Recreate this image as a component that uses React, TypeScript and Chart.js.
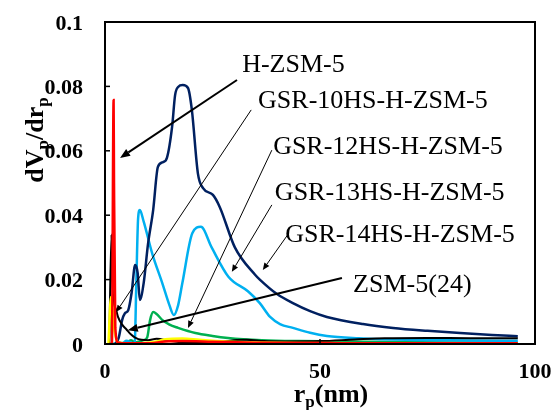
import { useEffect, useRef } from "react";
import { Chart, registerables } from "chart.js";

Chart.register(...registerables);

// ---------- data ----------
const hzsm5X = [1.0, 1.6, 2.0, 2.1, 2.4, 3.0, 5, 10, 14, 18, 25, 35, 50, 70, 96];
const hzsm5Y = [0, 0, 0.0758, 0.05, 0.005, 0.0005, 0.0002, 0.0002, 0.0008, 0.0009, 0.0007, 0.0004, 0.0003, 0.0002, 0.0002];

const gsr10X = [0.8, 1.4, 1.7, 2.0, 2.5, 3.0, 4, 6, 9, 12, 14, 18, 22, 28, 35, 45, 60, 80, 96];
const gsr10Y = [0, 0.0146, 0.012, 0.006, 0.002, 0.0005, 0.0003, 0.0002, 0.0003, 0.0008, 0.0015, 0.0017, 0.0013, 0.0008, 0.0005, 0.0003, 0.0002, 0.0002, 0.0002];

const zsm24X = [1.0, 1.5, 1.7, 2.0, 2.5, 3.0, 4.0, 5.0, 6.0, 7.0, 8.5, 10, 12, 15, 18, 22, 26, 30, 33, 37, 42, 50, 58, 65, 75, 85, 96];
const zsm24Y = [0, 0.034, 0.02, 0.013, 0.011, 0.0085, 0.006, 0.0045, 0.003, 0.002, 0.0013, 0.0012, 0.0016, 0.001, 0.0005, 0.0004, 0.0005, 0.0012, 0.0013, 0.0009, 0.0008, 0.0009, 0.0014, 0.0018, 0.0019, 0.0018, 0.0018];

const gsr12X = [1, 2, 3, 5, 6, 7, 8, 9, 9.8, 10.5, 11.2, 12, 13.3, 15, 17, 21, 25, 28.6, 36.5, 45, 60, 80, 96];
const gsr12Y = [0, 0, 0, 0.0003, 0.0012, 0.0005, 0.0008, 0.0012, 0.002, 0.0075, 0.0099, 0.0093, 0.0075, 0.006, 0.005, 0.0034, 0.0025, 0.0019, 0.0012, 0.0009, 0.0007, 0.0005, 0.0004];

const gsr13X = [2, 3, 4, 5, 6, 6.9, 7.3, 7.7, 8.1, 9, 11, 13.3, 15, 16, 17, 18, 20.3, 22.3, 24.8, 28.7, 33.3, 36, 38.4, 40.7, 43.7, 47.7, 51.6, 59, 70, 85, 96];
const gsr13Y = [0, 0.0005, 0.0003, 0.001, 0.0005, 0, 0.02, 0.039, 0.0416, 0.038, 0.028, 0.019, 0.012, 0.009, 0.012, 0.019, 0.0344, 0.0364, 0.030, 0.0209, 0.0163, 0.0127, 0.0084, 0.0062, 0.005, 0.0035, 0.0025, 0.0018, 0.0013, 0.0011, 0.001];

const gsr14X = [2.4, 3.2, 4.0, 4.6, 5.4, 6.2, 7.0, 7.6, 8.1, 9.0, 10.0, 11.2, 12.3, 13.5, 14.4, 15.6, 16.3, 17.0, 18.1, 19.3, 20.2, 21.6, 22.8, 25.1, 26.7, 30.2, 34.9, 36, 40, 43.7, 47.7, 51.6, 60, 67, 75, 82.6, 90, 96];
const gsr14Y = [0, 0.002, 0.0075, 0.0095, 0.0105, 0.016, 0.0245, 0.022, 0.0137, 0.019, 0.031, 0.0416, 0.055, 0.0565, 0.0578, 0.0674, 0.0773, 0.0798, 0.0804, 0.0795, 0.0727, 0.053, 0.0484, 0.0463, 0.0425, 0.030, 0.0215, 0.02, 0.0155, 0.0127, 0.0102, 0.0084, 0.0062, 0.005, 0.0041, 0.0034, 0.0028, 0.0024];

const extraX = [1, 5, 10, 20, 40, 60, 80, 96];
const extraY = [0, 0.0001, 0.0001, 0.0001, 0.0001, 0.0001, 0.0001, 0.0001];

const xTickValues = [0, 50, 100];
const yTickValues = [0, 0.02, 0.04, 0.06, 0.08, 0.1];

// ---------- annotations (data coordinates) ----------
const labelNames = ["H-ZSM-5", "GSR-10HS-H-ZSM-5", "GSR-12HS-H-ZSM-5", "GSR-13HS-H-ZSM-5", "GSR-14HS-H-ZSM-5", "ZSM-5(24)"];
const labelX = [31.9, 35.6, 39.1, 39.5, 41.9, 57.7];
const labelY = [0.0845, 0.0733, 0.059, 0.0447, 0.0317, 0.0161];
const arrowFromX = [30.7, 34.0, 38.8, 38.8, 42.8, 55.1];
const arrowFromY = [0.082, 0.0727, 0.0602, 0.0432, 0.0345, 0.0205];
const arrowToX = [3.5, 2.6, 19.3, 29.5, 36.7, 5.3];
const arrowToY = [0.0578, 0.0099, 0.005, 0.0224, 0.023, 0.0043];
const arrowThick = [true, false, false, false, false, true];

const toPts = (xs: number[], ys: number[]) => xs.map((x, i) => ({ x, y: ys[i] }));

const FONT = "'Liberation Serif', 'Times New Roman', serif";

const fmt = (v: number) => String(parseFloat(Number(v).toFixed(3)));

const overlayPlugin = {
  id: "overlay",
  afterDraw(chart: any) {
    const { ctx, chartArea } = chart;
    const xs = chart.scales.x;
    const ys = chart.scales.y;
    ctx.save();
    // frame
    ctx.strokeStyle = "#000";
    ctx.lineWidth = 2;
    ctx.strokeRect(chartArea.left, chartArea.top, chartArea.right - chartArea.left, chartArea.bottom - chartArea.top);
    // inner ticks + tick labels
    ctx.lineWidth = 1.5;
    ctx.fillStyle = "#000";
    ctx.font = `bold 22px ${FONT}`;
    ys.ticks.forEach((t: any) => {
      const py = ys.getPixelForValue(t.value);
      ctx.beginPath();
      ctx.moveTo(chartArea.left, py);
      ctx.lineTo(chartArea.left + 5, py);
      ctx.stroke();
      ctx.textAlign = "right";
      ctx.textBaseline = "alphabetic";
      ctx.fillText(fmt(t.value), chartArea.left - 22, py + 7.5);
    });
    xs.ticks.forEach((t: any) => {
      const px = xs.getPixelForValue(t.value);
      ctx.beginPath();
      ctx.moveTo(px, chartArea.bottom);
      ctx.lineTo(px, chartArea.bottom - 5);
      ctx.stroke();
      ctx.textAlign = "center";
      ctx.textBaseline = "alphabetic";
      ctx.fillText(fmt(t.value), px, chartArea.bottom + 34);
    });

    // arrows
    for (let i = 0; i < labelNames.length; i++) {
      const x1 = xs.getPixelForValue(arrowFromX[i]);
      const y1 = ys.getPixelForValue(arrowFromY[i]);
      const x2 = xs.getPixelForValue(arrowToX[i]);
      const y2 = ys.getPixelForValue(arrowToY[i]);
      const thick = arrowThick[i];
      const ang = Math.atan2(y2 - y1, x2 - x1);
      const hl = thick ? 10 : 7;
      const hw = thick ? 4 : 3;
      const bx = x2 - hl * Math.cos(ang);
      const by = y2 - hl * Math.sin(ang);
      ctx.strokeStyle = "#000";
      ctx.fillStyle = "#000";
      ctx.lineWidth = thick ? 2 : 1;
      ctx.beginPath();
      ctx.moveTo(x1, y1);
      ctx.lineTo(bx, by);
      ctx.stroke();
      ctx.beginPath();
      ctx.moveTo(x2, y2);
      ctx.lineTo(bx + hw * Math.sin(ang), by - hw * Math.cos(ang));
      ctx.lineTo(bx - hw * Math.sin(ang), by + hw * Math.cos(ang));
      ctx.closePath();
      ctx.fill();
    }

    // labels
    ctx.fillStyle = "#000";
    ctx.font = `26px ${FONT}`;
    ctx.textAlign = "left";
    ctx.textBaseline = "alphabetic";
    for (let i = 0; i < labelNames.length; i++) {
      ctx.fillText(labelNames[i], xs.getPixelForValue(labelX[i]), ys.getPixelForValue(labelY[i]));
    }

    // axis titles with subscripts
    const drawSub = (parts: [string, boolean][], startX: number, baseY: number) => {
      let cx = startX;
      for (const [txt, sub] of parts) {
        ctx.font = sub ? `bold 17px ${FONT}` : `bold 26px ${FONT}`;
        ctx.fillText(txt, cx, sub ? baseY + 5 : baseY);
        cx += ctx.measureText(txt).width;
      }
    };
    const measure = (parts: [string, boolean][]) => {
      let w = 0;
      for (const [txt, sub] of parts) {
        ctx.font = sub ? `bold 17px ${FONT}` : `bold 26px ${FONT}`;
        w += ctx.measureText(txt).width;
      }
      return w;
    };
    const xTitle: [string, boolean][] = [["r", false], ["p", true], ["(nm)", false]];
    const xw = measure(xTitle);
    const xc = (chartArea.left + chartArea.right) / 2 + 11;
    drawSub(xTitle, xc - xw / 2, 402);

    const yTitle: [string, boolean][] = [["dV", false], ["p", true], ["/dr", false], ["p", true]];
    const yw = measure(yTitle);
    ctx.translate(43, 140);
    ctx.rotate(-Math.PI / 2);
    drawSub(yTitle, -yw / 2, 0);
    ctx.restore();
  },
};

export default function App() {
  const ref = useRef<HTMLCanvasElement | null>(null);
  useEffect(() => {
    if (!ref.current) return;
    const mk = (label: string, xs: number[], ys: number[], color: string, w: number) => ({
      label,
      data: toPts(xs, ys),
      borderColor: color,
      backgroundColor: color,
      borderWidth: w,
      pointRadius: 0,
      fill: false,
      cubicInterpolationMode: "monotone" as const,
    });
    const zeroPad = (s: any) => {
      s.paddingTop = 0;
      s.paddingBottom = 0;
      s.paddingLeft = 0;
      s.paddingRight = 0;
    };
    const chart = new Chart(ref.current, {
      type: "line",
      data: {
        datasets: [
          mk("H-ZSM-5", hzsm5X, hzsm5Y, "#FF0000", 2.5),
          mk("GSR-10HS-H-ZSM-5", gsr10X, gsr10Y, "#FFFF00", 2.5),
          mk("ZSM-5(24)", zsm24X, zsm24Y, "#000000", 2),
          mk("GSR-14HS-H-ZSM-5", gsr14X, gsr14Y, "#002060", 2.5),
          mk("GSR-13HS-H-ZSM-5", gsr13X, gsr13Y, "#00B0F0", 2.5),
          mk("GSR-12HS-H-ZSM-5", gsr12X, gsr12Y, "#00B050", 2.5),
          mk("other", extraX, extraY, "#FFA000", 2),
        ],
      },
      options: {
        animation: false,
        responsive: false,
        devicePixelRatio: 1,
        layout: { padding: { left: 0, top: 22, right: 20, bottom: 0 } },
        plugins: { legend: { display: false }, tooltip: { enabled: false } },
        scales: {
          x: {
            type: "linear",
            min: 0,
            max: 100,
            afterBuildTicks: (s: any) => {
              s.ticks = xTickValues.map((v) => ({ value: v }));
            },
            afterFit: (s: any) => {
              s.height = 66;
              zeroPad(s);
            },
            grid: { display: false, drawTicks: false },
            border: { display: false },
            ticks: { display: false },
          },
          y: {
            type: "linear",
            min: 0,
            max: 0.1,
            afterBuildTicks: (s: any) => {
              s.ticks = yTickValues.map((v) => ({ value: v }));
            },
            afterFit: (s: any) => {
              s.width = 105;
              zeroPad(s);
            },
            grid: { display: false, drawTicks: false },
            border: { display: false },
            ticks: { display: false },
          },
        },
      },
      plugins: [overlayPlugin],
    });
    return () => chart.destroy();
  }, []);
  return (
    <div style={{ position: "fixed", left: 0, top: 0, width: 555, height: 410, background: "#fff" }}>
      <canvas ref={ref} width={555} height={410} style={{ display: "block" }} />
    </div>
  );
}
